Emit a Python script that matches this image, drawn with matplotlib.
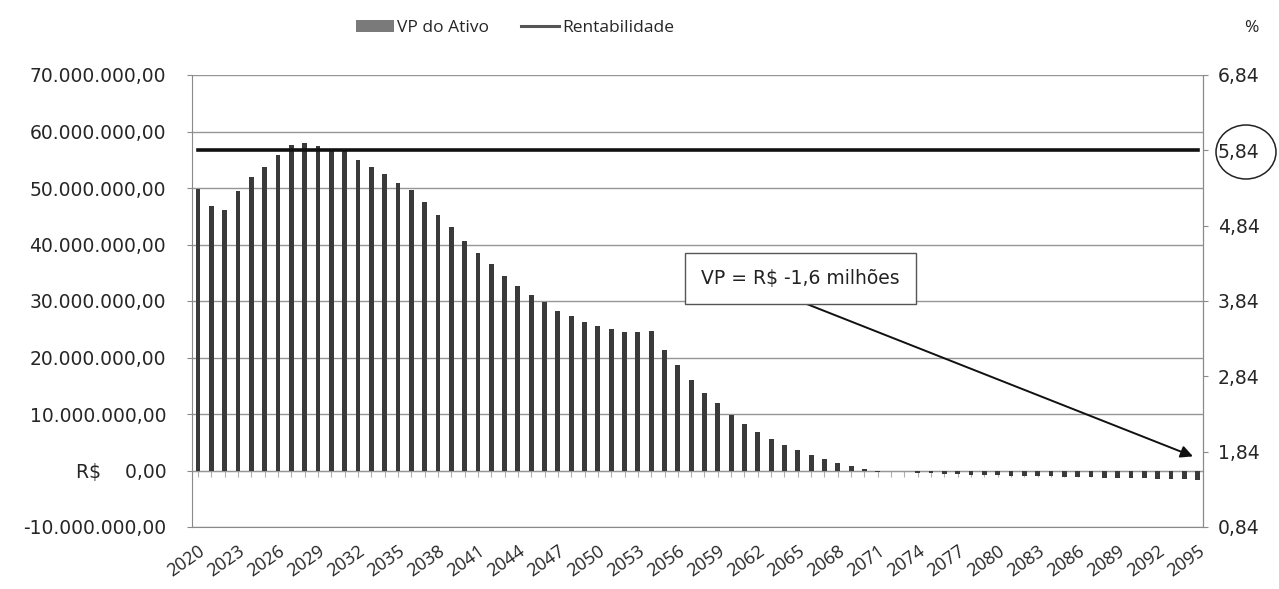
import matplotlib
matplotlib.use("Agg")
import matplotlib.pyplot as plt
from matplotlib.patches import Ellipse, Patch
from matplotlib.lines import Line2D
import numpy as np

plt.rcParams['font.family'] = ['DejaVu Sans']

years = list(range(2020, 2096))
vp_milhoes = [
    49.9, 46.8, 46.1, 49.5, 52.0, 53.8, 55.9, 57.6, 57.9, 57.5,
    56.7, 56.6, 55.0, 53.7, 52.4, 50.9, 49.6, 47.5, 45.3, 43.1,
    40.7, 38.5, 36.5, 34.5, 32.7, 31.1, 29.8, 28.3, 27.3, 26.2,
    25.6, 25.0, 24.6, 24.6, 24.7, 21.4, 18.6, 16.1, 13.75, 11.9,
    9.8, 8.2, 6.9, 5.65, 4.6, 3.6, 2.7, 2.1, 1.4, 0.8,
    0.35, -0.2, -0.05, -0.1, -0.4, -0.5, -0.6, -0.7, -0.75, -0.8,
    -0.85, -0.9, -0.95, -1.0, -1.05, -1.1, -1.15, -1.2, -1.25, -1.3,
    -1.35, -1.4, -1.45, -1.5, -1.55, -1.6,
]
rentabilidade = [5.84] * len(years)
left_ticks = [-10e6, 0, 10e6, 20e6, 30e6, 40e6, 50e6, 60e6, 70e6]
right_ticks = [0.84, 1.84, 2.84, 3.84, 4.84, 5.84, 6.84]
label_years = years[::3]
annotation_text = "VP = R$ -1,6 milhões"

vp = np.array(vp_milhoes) * 1e6
idx = np.arange(len(years))

fig = plt.figure(figsize=(12.79, 5.89), dpi=100)
ax = fig.add_axes([192/1279, 1 - 527/589, (1203 - 192)/1279, (527 - 75)/589])

GRID = '#959595'
SPINE = '#8a8a8a'
TXT = '#262626'
FS = 13.5

ax.bar(idx, vp, width=0.36, color='#3a3a3a', zorder=3, label='VP do Ativo')
ax.set_ylim(left_ticks[0], left_ticks[-1])
ax.set_xlim(-0.45, len(years) - 1 + 0.4)
ax.set_yticks(left_ticks)


def fmt_br(v):
    if v == 0:
        return 'R$    0,00'
    s = f"{abs(v):,.2f}".replace(',', 'X').replace('.', ',').replace('X', '.')
    return ('-' if v < 0 else '') + s


ax.set_yticklabels([fmt_br(v) for v in left_ticks], fontsize=FS, color=TXT)
ax.yaxis.grid(True, color=GRID, lw=1.0, zorder=0)
ax.tick_params(axis='y', length=3.6, color=SPINE, pad=15)

ax.set_xticks(idx[::3])
ax.set_xticklabels([str(y) for y in label_years], rotation=35, ha='right',
                   rotation_mode='anchor', fontsize=13, color=TXT,
                   family='Open Sans')
ax.tick_params(axis='x', length=0, pad=11)
ax.spines['top'].set_visible(False)
for side in ['left', 'right', 'bottom']:
    ax.spines[side].set_color(SPINE)

# category axis crossing at zero
zero_frac = (0 - left_ticks[0]) / (left_ticks[-1] - left_ticks[0])
sec = ax.secondary_xaxis(zero_frac)
sec.set_xticks(idx)
sec.set_xticklabels([])
sec.tick_params(axis='x', length=4, color='#b0b0b0', direction='out')
sec.spines['bottom'].set_color('#9a9a9a')

ax2 = ax.twinx()
ax2.set_ylim(right_ticks[0], right_ticks[-1])
ax2.set_yticks(right_ticks)
ax2.set_yticklabels([f"{v:.2f}".replace('.', ',') for v in right_ticks],
                    fontsize=FS, color=TXT)
ax2.tick_params(axis='y', length=3.6, color=SPINE, pad=7)
for side in ['top', 'bottom', 'left']:
    ax2.spines[side].set_visible(False)
ax2.spines['right'].set_color(SPINE)
ax2.plot(idx, rentabilidade, color='#111111', lw=2.6, zorder=4, label='Rentabilidade')

# annotation
ax.annotate('', xy=(idx[-1] - 0.35, 2.5e6), xytext=(45.1, 30.0e6),
            arrowprops=dict(arrowstyle='-|>', color='#111111', lw=1.4,
                            mutation_scale=18, shrinkA=0, shrinkB=0), zorder=6)
ax.text(45.2, 34.0e6, annotation_text, ha='center', va='center', fontsize=FS,
        color='#222222', zorder=7,
        bbox=dict(boxstyle='square,pad=0.85', fc='white', ec='#555555', lw=1.0))

# legend
handles = [Patch(facecolor='#7a7a7a', edgecolor='none', label='VP do Ativo'),
           Line2D([0], [0], color='#555555', lw=2.2, label='Rentabilidade')]
fig.legend(handles=handles, loc='center', bbox_to_anchor=(515/1279, 1 - 28/589),
           ncol=2, frameon=False, prop={'family': 'Open Sans', 'size': 12.5},
           handlelength=2.2, handletextpad=0.2, columnspacing=1.8, labelcolor=TXT)

fig.text(1251/1279, 1 - 28/589, '%', ha='center', va='center', fontsize=12.5,
         color=TXT, family='Open Sans')

# circle around 5,84
circ = Ellipse((1246/1279, 1 - 152/589), 60/1279, 54/589, transform=fig.transFigure,
               fill=False, ec='#222222', lw=1.1)
fig.patches.append(circ)

fig.savefig('out.png', dpi=100)
